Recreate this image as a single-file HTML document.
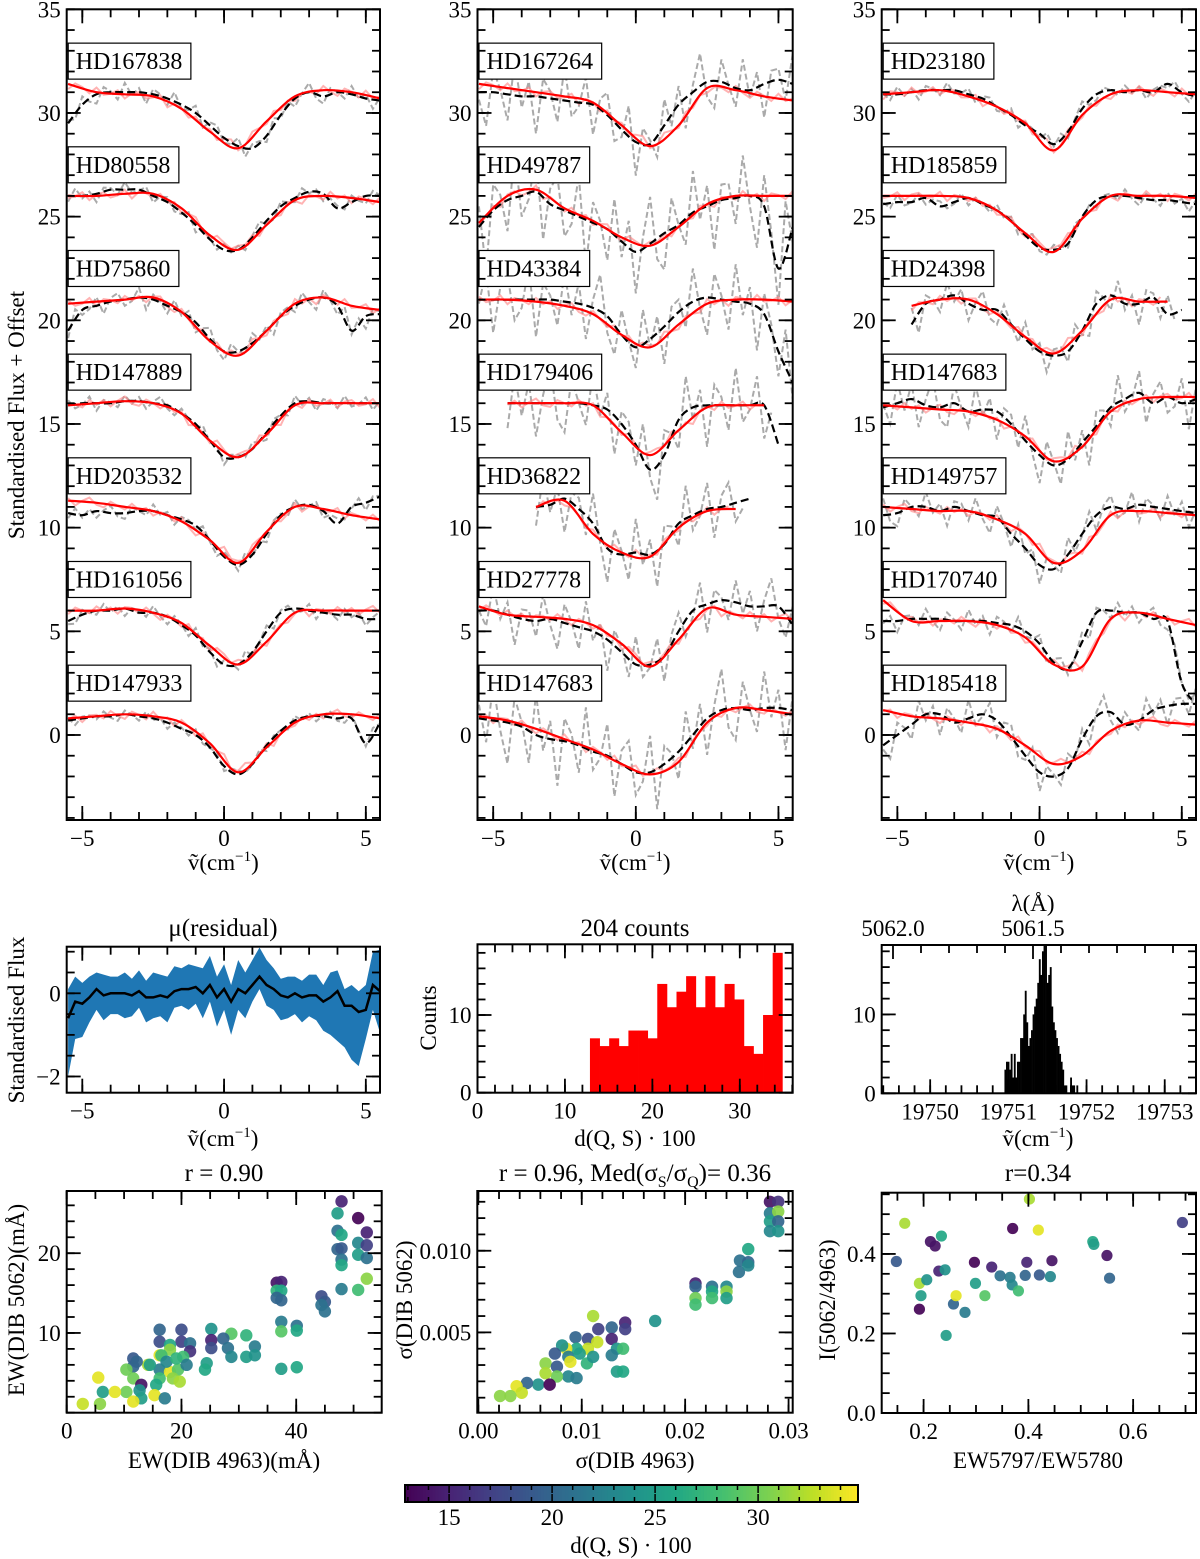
<!DOCTYPE html>
<html><head><meta charset="utf-8">
<style>
body{margin:0;background:#fff}
svg{display:block;font-family:"Liberation Serif","DejaVu Serif",serif}
</style></head>
<body>
<svg id="fig" width="1200" height="1559" viewBox="0 0 1200 1559" xmlns="http://www.w3.org/2000/svg"></svg>
<script>
// ===== DATA =====
const offsets = [30,25,20,15,10,5,0];
const p1Names = ["HD167838","HD80558","HD75860","HD147889","HD203532","HD161056","HD147933"];
const p2Names = ["HD167264","HD49787","HD43384","HD179406","HD36822","HD27778","HD147683"];
const p3Names = ["HD23180","HD185859","HD24398","HD147683","HD149757","HD170740","HD185418"];
// black dashed model, grid -5.5..5.5 step 0.5 (relative to offset)
const p1Black = [
 [-0.5,0.4,0.9,1.0,1.0,1.0,0.9,0.7,0.4,0.0,-0.6,-1.2,-1.6,-1.7,-1.1,-0.1,0.7,1.0,0.8,1.0,0.9,0.7,0.6],
 [1.0,1.0,1.1,1.3,1.3,1.3,1.0,0.7,0.2,-0.4,-1.1,-1.6,-1.6,-1.0,-0.2,0.5,0.9,1.2,1.1,0.4,0.7,1.0,1.0],
 [-0.5,0.5,0.7,0.9,1.0,1.1,1.0,0.7,0.4,-0.1,-0.9,-1.5,-1.5,-1.1,-0.5,0.2,0.7,1.0,1.1,0.7,-0.5,0.2,0.3],
 [0.9,1.0,1.0,1.0,1.1,1.1,1.0,0.9,0.5,0.0,-0.8,-1.6,-1.6,-1.2,-0.4,0.4,1.0,1.1,1.0,1.0,1.0,1.0,1.0],
 [0.7,0.6,0.8,0.7,0.7,0.8,0.8,0.6,0.4,0.1,-0.6,-1.4,-1.8,-1.3,-0.3,0.6,1.0,1.1,0.8,0.2,1.0,1.2,1.5],
 [0.5,0.8,1.0,1.0,1.1,0.9,0.9,0.7,0.3,-0.2,-1.0,-1.6,-1.6,-1.0,0.0,0.9,1.1,1.0,0.9,0.8,0.8,0.6,0.6],
 [0.7,0.8,0.9,0.9,1.0,0.9,0.8,0.6,0.3,0.0,-0.6,-1.5,-1.9,-1.4,-0.5,0.2,0.7,0.9,0.9,0.8,0.8,-0.4,0.6]
];
const p2Black = [
 [1.0,1.0,0.9,0.8,0.8,0.7,0.6,0.5,0.4,-0.1,-0.8,-1.4,-1.5,-0.6,0.4,1.0,1.5,1.5,1.2,1.1,1.4,1.6,1.4],
 [-0.5,0.3,0.8,1.0,1.2,0.6,0.3,0.0,-0.3,-0.6,-1.2,-1.7,-1.3,-0.8,-0.4,0.2,0.5,0.8,0.9,1.0,0.5,-2.5,-0.5],
 [1.0,1.0,1.0,1.0,1.0,1.0,0.9,0.8,0.6,0.2,-0.7,-1.3,-0.9,-0.3,0.4,0.9,1.1,1.0,0.9,0.8,0.3,-1.5,-3.0],
 [null,null,1.0,1.0,1.0,1.0,1.0,1.0,0.9,0.7,0.0,-1.0,-2.2,-1.5,0.2,0.8,0.9,0.9,0.9,0.9,0.9,-1.0,null],
 [null,null,null,null,1.0,1.1,1.4,0.9,0.2,-1.0,-1.3,-1.2,-1.3,-0.8,0.2,0.6,0.9,1.0,1.2,1.4,null,null,null],
 [1.0,1.0,0.8,0.6,0.5,0.6,0.4,0.2,0.0,-0.4,-1.0,-1.6,-1.6,-1.2,0.0,1.0,1.3,1.5,1.4,1.2,1.2,1.2,0.3],
 [0.8,0.7,0.6,0.4,0.0,-0.2,-0.3,-0.5,-0.8,-1.0,-1.4,-1.8,-1.8,-1.4,-0.8,0.0,0.8,1.2,1.3,1.2,1.3,1.3,1.2]
];
const p3Black = [
 [0.9,0.9,1.0,1.1,1.1,1.1,0.9,0.7,0.3,-0.1,-0.6,-1.0,-1.5,-0.9,0.2,0.9,1.1,1.0,1.1,1.0,1.4,1.0,0.8],
 [0.6,0.7,0.7,0.9,0.5,0.7,0.9,0.6,0.3,-0.2,-0.9,-1.5,-1.6,-1.3,0.0,0.8,1.0,1.0,0.9,0.8,0.8,0.7,0.6],
 [null,null,-0.2,0.8,1.0,1.2,0.8,0.5,0.5,-0.2,-0.9,-1.5,-1.7,-1.5,-0.5,0.8,1.2,0.8,0.8,1.1,0.3,0.5,null],
 [0.8,1.0,1.2,0.9,0.8,1.0,0.6,0.7,0.6,0.0,-0.8,-1.5,-2.0,-1.7,-0.9,-0.1,0.8,1.2,1.5,1.0,1.3,1.0,1.2],
 [0.6,0.7,1.0,1.0,0.8,1.0,0.8,0.6,0.5,-0.3,-1.0,-1.8,-2.0,-1.3,-0.3,0.6,1.0,0.9,1.1,1.0,0.9,0.8,0.7],
 [0.5,0.5,0.6,0.6,0.6,0.5,0.5,0.5,0.4,0.3,0.0,-0.6,-1.5,-1.8,-0.5,0.9,1.0,0.9,0.9,0.6,0.5,-2.5,-3.5],
 [-0.5,0.0,0.5,1.0,1.0,0.6,0.8,1.0,0.7,-0.1,-1.0,-1.8,-2.0,-1.6,-0.2,0.9,1.1,0.5,0.7,1.2,1.4,1.5,1.5]
];
// red fit, grid -5.5..5.5 step 1
const p1Red = [
 [1.4,1.0,0.9,0.8,0.2,-0.9,-1.7,-0.4,0.8,1.1,1.0,0.7],
 [1.0,1.0,1.1,1.1,0.4,-0.9,-1.6,-0.4,0.8,1.0,0.9,0.7],
 [0.8,0.9,1.0,1.1,0.4,-1.0,-1.7,-0.5,0.8,1.1,0.7,0.5],
 [0.9,1.0,1.1,1.0,0.5,-0.8,-1.6,-0.5,0.9,1.0,1.0,1.0],
 [1.3,1.2,1.0,0.8,0.3,-0.6,-1.7,-0.2,1.0,0.9,0.6,0.4],
 [1.0,1.0,1.1,0.9,0.4,-0.7,-1.6,-0.5,0.9,1.0,1.0,1.0],
 [0.8,0.9,1.0,0.9,0.6,-0.4,-1.8,-0.6,0.6,1.0,1.0,0.8]
];
const p2Red = [
 [1.4,1.2,1.0,0.8,0.5,-0.6,-1.6,-0.6,1.2,1.1,0.8,0.6],
 [-0.3,1.0,1.3,0.4,-0.2,-1.0,-1.4,-0.5,0.6,1.0,1.0,1.0],
 [1.0,1.0,0.9,0.7,0.3,-0.7,-1.3,-0.2,0.8,1.0,1.0,0.9],
 [null,1.0,1.0,1.0,0.9,-0.4,-1.5,-0.3,0.8,0.9,0.9,null],
 [null,null,1.0,1.3,-0.3,-1.2,-1.4,0.0,0.8,0.9,null,null],
 [1.2,0.8,0.7,0.6,0.3,-0.6,-1.7,-0.4,1.1,0.8,0.7,0.6],
 [0.9,0.7,0.3,-0.2,-0.7,-1.4,-1.9,-1.3,0.6,1.3,1.2,1.0]
];
const p3Red = [
 [0.9,1.0,1.1,0.8,0.3,-0.5,-1.8,-0.1,0.9,1.1,1.0,0.9],
 [1.0,1.0,1.0,0.9,0.3,-0.8,-1.7,-0.1,1.0,1.0,1.0,0.9],
 [null,0.7,1.0,1.0,0.3,-0.8,-1.6,-0.5,1.0,0.9,0.9,null],
 [0.9,0.8,0.7,0.6,0.2,-0.6,-1.8,-1.1,0.6,1.2,1.3,1.3],
 [1.0,0.9,0.8,0.8,0.4,-0.3,-1.7,-1.1,0.6,0.8,0.7,0.6],
 [1.5,0.5,0.5,0.5,0.3,-0.3,-1.6,-1.7,0.6,0.9,0.6,0.3],
 [1.2,0.9,0.8,0.6,0.3,-0.5,-1.4,-1.0,0.2,0.7,0.6,0.5]
];
// noise amplitude of observed (grey) spectra
const p1Noise = [0.5,0.4,0.6,0.4,0.4,0.4,0.3];
const p2Noise = [1.8,2.5,2.0,2.0,1.8,1.5,2.2];
const p3Noise = [0.4,0.4,1.0,1.5,0.9,0.6,1.0];
const noisePattern = [0.3,-0.5,0.8,-0.2,-0.9,0.6,0.1,-0.7,0.9,-0.3,0.4,-1.0,0.5,0.2,-0.6,0.9,-0.4,-0.1,0.7,-0.8,0.3,0.6,-0.5,-0.2,0.8,-0.9,0.4,0.1,-0.6,0.7,-0.3,0.5,-0.8,0.2,0.9,-0.4,-0.7,0.6,0.0,-0.5,0.8,-0.2,0.4,-0.9,0.3];
// residual panel, grid -5.5..5.5 step 0.25
const resMean = [-0.6,-0.2,-0.25,-0.1,0.1,-0.05,0.0,0.0,0.0,-0.05,0.05,-0.1,-0.1,-0.05,-0.1,0.05,0.1,0.1,0.15,0.0,0.2,-0.1,0.1,-0.2,0.1,0.0,0.2,0.4,0.2,0.1,-0.05,-0.1,0.0,-0.1,-0.05,-0.05,-0.2,-0.1,0.05,-0.3,-0.3,-0.45,-0.4,0.2,0.05];
const resUpper = [0.7,0.6,0.5,0.5,0.4,0.5,0.4,0.4,0.5,0.4,0.5,0.4,0.6,0.5,0.5,0.6,0.5,0.6,0.5,0.6,0.7,0.5,0.6,0.4,0.7,0.5,0.6,0.7,0.6,0.5,0.4,0.5,0.4,0.4,0.5,0.5,0.4,0.6,0.5,0.4,0.5,0.5,0.6,0.8,1.0];
const resLower = [-1.4,-0.9,-0.8,-0.6,-0.5,-0.6,-0.5,-0.5,-0.6,-0.5,-0.4,-0.6,-0.5,-0.5,-0.6,-0.4,-0.4,-0.5,-0.4,-0.6,-0.4,-0.7,-0.5,-0.8,-0.5,-0.6,-0.4,-0.3,-0.5,-0.5,-0.6,-0.5,-0.5,-0.6,-0.5,-0.6,-0.7,-0.9,-1.2,-1.0,-1.3,-1.3,-0.7,-0.6,-1.0];
// d(Q,S) histogram
const dHistStart = 12.86, dHistWidth = 1.1;
const dHistCounts = [7,6,7,6,8,8,7,14,11,13,15,11,15,11,14,12,6,5,10,18];
// wavenumber histogram
const wnHistStart = 19750.95, wnHistWidth = 0.02;
const wnHistCounts = [3,4,4,3,5,2,5,2,4,4,7,7,10,13,9,6,7,8,10,11,12,14,17,15,18,19,19,14,15,16,11,9,8,7,6,5,4,3,1,1,0,0,2,1,1,0,1,0];
// scatter 1: EW
const s1X = [47.9,47.2,50.8,52.3,47.2,47.9,50.8,52.3,47.2,47.9,50.8,52.3,47.9,47.9,52.3,47.9,50.8,36.6,37.4,36.6,37.4,36.6,37.4,44.4,45.0,44.4,45.0,37.4,40.1,37.4,40.1,37.4,40.1,25.2,28.7,31.3,25.2,27.3,28.1,25.2,28.7,31.3,32.8,32.8,24.4,24.1,16.2,20.0,16.2,20.0,21.5,18.0,21.5,18.0,20.3,16.2,11.6,11.6,14.2,16.2,18.0,19.4,20.9,11.6,13.0,16.2,18.5,19.7,15.6,10.4,12.7,13.0,15.3,17.1,11.6,6.3,8.4,5.5,2.8,5.8,10.4,12.2,14.5,16.5,17.4,19.1];
const s1Y = [26.5,25.0,24.4,22.6,22.8,22.3,21.3,21.0,20.5,20.6,19.8,19.4,19.2,18.5,16.8,15.5,15.4,16.3,16.4,15.3,15.3,14.4,14.1,14.6,13.9,13.5,12.7,11.4,10.9,10.2,10.3,5.5,5.7,10.5,9.9,9.7,9.1,9.3,8.1,8.1,7.0,7.0,8.3,7.2,6.2,5.4,10.4,10.4,8.9,8.9,8.7,8.5,7.7,7.9,7.0,7.2,6.8,5.8,6.0,5.4,5.1,5.4,6.0,4.3,3.5,4.3,4.3,3.9,3.5,2.6,2.8,1.8,2.2,1.8,1.4,2.6,2.6,4.4,1.1,1.1,5.4,6.4,6.0,7.2,6.4,6.8];
const s1C = [15,25,13,15,21,26,23,17,20,19,25,21,21,26,31,22,28,14,15,27,26,20,20,18,19,21,21,22,21,29,26,25,26,24,29,27,15,20,21,18,23,25,22,24,25,26,20,18,18,17,21,26,16,31,28,34,19,20,32,22,34,29,22,30,14,28,31,32,26,30,24,25,34,22,34,25,34,34,33,31,30,20,25,28,23,27];
// scatter 2: sigma
const s2X = [0.0282,0.0290,0.0282,0.0290,0.0282,0.0290,0.0282,0.0290,0.0261,0.0253,0.0261,0.0252,0.0261,0.0210,0.0210,0.0226,0.0240,0.0210,0.0210,0.0226,0.0226,0.0240,0.0240,0.0171,0.0111,0.0142,0.0142,0.0129,0.0116,0.0129,0.0134,0.0140,0.0129,0.0106,0.0106,0.0094,0.0095,0.0085,0.0081,0.0074,0.0065,0.0076,0.0087,0.0098,0.0105,0.0111,0.0087,0.0095,0.0076,0.0065,0.0058,0.0069,0.0047,0.0037,0.0042,0.0021,0.0031,0.0134,0.0140,0.0089,0.0115];
const s2Y = [0.0130,0.0130,0.0123,0.0124,0.0118,0.0118,0.0112,0.0112,0.0101,0.0094,0.0093,0.0087,0.0091,0.0080,0.0078,0.0078,0.0078,0.0071,0.0067,0.0075,0.0071,0.0075,0.0071,0.0057,0.0060,0.0056,0.0052,0.0053,0.0052,0.0046,0.0040,0.0040,0.0036,0.0046,0.0040,0.0047,0.0040,0.0040,0.0042,0.0037,0.0031,0.0029,0.0035,0.0037,0.0031,0.0035,0.0023,0.0022,0.0023,0.0025,0.0018,0.0018,0.0019,0.0017,0.0013,0.0011,0.0011,0.0026,0.0026,0.0032,0.0044];
const s2C = [14,16,22,31,25,20,23,24,26,21,20,21,23,15,20,21,23,30,28,26,28,31,25,24,32,15,17,20,17,15,24,28,22,18,33,20,26,34,24,19,31,19,22,25,27,24,23,22,30,32,24,13,20,34,33,31,31,25,26,34,33];
// scatter 3: intensity ratio
const s3X = [0.148,0.164,0.192,0.195,0.192,0.206,0.213,0.222,0.229,0.234,0.241,0.243,0.257,0.262,0.279,0.297,0.299,0.317,0.330,0.346,0.365,0.370,0.369,0.381,0.394,0.397,0.402,0.419,0.421,0.442,0.445,0.523,0.525,0.550,0.555,0.694];
const s3Y = [0.381,0.477,0.326,0.295,0.261,0.335,0.431,0.420,0.357,0.445,0.360,0.195,0.274,0.295,0.253,0.379,0.326,0.295,0.367,0.345,0.341,0.464,0.322,0.307,0.346,0.379,0.538,0.460,0.347,0.343,0.383,0.431,0.424,0.396,0.339,0.479];
const s3C = [19,32,32,25,13,24,14,14,15,26,24,25,20,34,22,13,25,29,15,21,22,13,23,28,20,15,32,34,19,23,14,26,25,14,20,17];
const cbTicks = [15,20,25,30];

// ===== HELPERS =====
const NS = 'http://www.w3.org/2000/svg';
const svg = document.getElementById('fig');
function mk(tag, attrs, parent){
  const e = document.createElementNS(NS, tag);
  for (const k in attrs) e.setAttribute(k, attrs[k]);
  (parent || svg).appendChild(e);
  return e;
}
function lin(d0,d1,r0,r1){ return v => r0 + (v-d0)/(d1-d0)*(r1-r0); }
const stops = ['#440154','#482475','#414487','#355f8d','#2a788e','#21918c','#22a884','#44bf70','#7ad151','#bddf26','#fde725'];
function hex(h){ return [1,3,5].map(i=>parseInt(h.substr(i,2),16)); }
function viridis(t){
  t = Math.max(0, Math.min(1, t));
  const f = t*(stops.length-1), i = Math.min(Math.floor(f), stops.length-2), u = f-i;
  const a = hex(stops[i]), b = hex(stops[i+1]);
  return 'rgb(' + a.map((v,k)=>Math.round(v+(b[k]-v)*u)).join(',') + ')';
}
const cMin = 12.86, cMax = 34.85;
function cmap(v){ return viridis((v-cMin)/(cMax-cMin)); }
const fmtMinus = s => String(s).replace('-', '\u2212');

let clipN = 0;
function makePanel(name, l, t, r, b, xd, yd){
  const g = mk('g', {});
  
  
  const id = 'clip' + (clipN++);
  const cp = mk('clipPath', {id: id}, g);
  mk('rect', {x:l, y:t, width:r-l, height:b-t}, cp);
  const plot = mk('g', {'clip-path': 'url(#' + id + ')'}, g);
  
  
  return {g, plot, l, t, r, b, sx: lin(xd[0], xd[1], l, r), sy: lin(yd[0], yd[1], b, t), xd, yd};
}
function frame(P){
  const f = mk('rect', {x:P.l, y:P.t, width:P.r-P.l, height:P.b-P.t, fill:'none', stroke:'#000', 'stroke-width':2}, P.g);
  
  
}
function range(a, b, s){ const o=[]; for(let v=a; v<=b+s*1e-6; v+=s) o.push(+v.toFixed(6)); return o; }
function xTicks(P, majors, minors, fmt, top=true){
  const g = mk('g', {stroke:'#000', 'stroke-width':1.8}, P.g);
  
  
  const within = v => v >= Math.min(...P.xd) - 1e-9 && v <= Math.max(...P.xd) + 1e-9;
  minors.filter(within).forEach(v => { const x=P.sx(v);
    mk('line', {x1:x, x2:x, y1:P.b, y2:P.b-8}, g);
    if (top) mk('line', {x1:x, x2:x, y1:P.t, y2:P.t+8}, g); });
  majors.filter(within).forEach(v => { const x=P.sx(v);
    mk('line', {x1:x, x2:x, y1:P.b, y2:P.b-14}, g);
    if (top) mk('line', {x1:x, x2:x, y1:P.t, y2:P.t+14}, g);
    const tx = mk('text', {x:x, y:P.b+26, 'text-anchor':'middle', 'font-size':23}, P.g);
    tx.textContent = fmt(v);
    
     });
}
function yTicks(P, majors, minors, fmt){
  const g = mk('g', {stroke:'#000', 'stroke-width':1.8}, P.g);
  
  
  const within = v => v >= P.yd[0] - 1e-9 && v <= P.yd[1] + 1e-9;
  minors.filter(within).forEach(v => { const y=P.sy(v);
    mk('line', {x1:P.l, x2:P.l+8, y1:y, y2:y}, g);
    mk('line', {x1:P.r, x2:P.r-8, y1:y, y2:y}, g); });
  majors.filter(within).forEach(v => { const y=P.sy(v);
    mk('line', {x1:P.l, x2:P.l+14, y1:y, y2:y}, g);
    mk('line', {x1:P.r, x2:P.r-14, y1:y, y2:y}, g);
    const tx = mk('text', {x:P.l-6, y:y+8, 'text-anchor':'end', 'font-size':23}, P.g);
    tx.textContent = fmt(v);
    
     });
}
function label(txt, x, y, name, rot, size=23){
  const t = mk('text', {x:x, y:y, 'text-anchor':'middle', 'font-size':size});
  if (rot) t.setAttribute('transform', 'rotate(-90 ' + x + ' ' + y + ')');
  t.innerHTML = txt;
  
  
  return t;
}
const nuLabel = '\u1E7D(cm<tspan dy="-9" font-size="15">\u22121</tspan><tspan dy="9">)</tspan>';
function interp(arr, x0, step, x){
  const f = (x-x0)/step, i = Math.floor(f+1e-9);
  if (i === arr.length-1 && Math.abs(f-i)<1e-6) return arr[i];
  if (i < 0 || i >= arr.length-1) return null;
  const a = arr[i], b = arr[i+1];
  if (a == null || b == null) return null;
  return a + (b-a)*(f-i);
}
function segs(pts){
  const out=[]; let cur=[];
  pts.forEach(p => { if (p[1]==null || isNaN(p[1])) { if(cur.length>1) out.push(cur); cur=[]; } else cur.push(p); });
  if (cur.length>1) out.push(cur);
  return out;
}
function linPath(pts){ return segs(pts).map(s => 'M' + s.map(p=>p[0].toFixed(1)+','+p[1].toFixed(1)).join('L')).join(''); }
function smoothPath(pts){
  return segs(pts).map(s => {
    let d = 'M' + s[0][0].toFixed(1) + ',' + s[0][1].toFixed(1);
    for (let i=0; i<s.length-1; i++){
      const p0=s[i-1]||s[i], p1=s[i], p2=s[i+1], p3=s[i+2]||s[i+1];
      const c1=[p1[0]+(p2[0]-p0[0])/6, p1[1]+(p2[1]-p0[1])/6];
      const c2=[p2[0]-(p3[0]-p1[0])/6, p2[1]-(p3[1]-p1[1])/6];
      d += 'C'+c1.map(v=>v.toFixed(1)).join(',')+' '+c2.map(v=>v.toFixed(1)).join(',')+' '+p2[0].toFixed(1)+','+p2[1].toFixed(1);
    }
    return d; }).join('');
}

// ===== TOP SPECTRA PANELS =====
const topBoxes = [[66.7,380],[477.5,792.7],[881.7,1196]];
const allNames=[p1Names,p2Names,p3Names], allBlack=[p1Black,p2Black,p3Black], allRed=[p1Red,p2Red,p3Red], allNoise=[p1Noise,p2Noise,p3Noise];
topBoxes.forEach((bx, k) => {
  const P = makePanel('spectra-panel-' + (k+1), bx[0], 9.3, bx[1], 820, [-5.55,5.5], [-4.1,35]);
  offsets.forEach((off, j) => {
    const B = allBlack[k][j], R = allRed[k][j], amp = allNoise[k][j];
    const fine = range(-5.5, 5.5, 0.25);
    const grey = fine.map((x,i) => { const b = interp(B, -5.5, 0.5, x); return [P.sx(x), b==null?null:P.sy(off + b + amp*noisePattern[(i + j*7 + k*3) % 45])]; });
    const gp = mk('path', {d: linPath(grey), fill:'none', stroke:'#aaaaaa', 'stroke-width':2, 'stroke-dasharray':'6,3'}, P.plot);
    
    
    const pink = fine.map((x,i) => { const r = interp(R, -5.5, 1, x); return [P.sx(x), r==null?null:P.sy(off + r + 0.25*noisePattern[(i + j*5 + 11) % 45])]; });
    const pp = mk('path', {d: linPath(pink), fill:'none', stroke:'#ff8080', 'stroke-width':2, opacity:0.6}, P.plot);
    
    
    const bl = B.map((v,i) => [P.sx(-5.5 + i*0.5), v==null?null:P.sy(off+v)]);
    const bp = mk('path', {d: smoothPath(bl), fill:'none', stroke:'#000', 'stroke-width':2.2, 'stroke-dasharray':'8,4'}, P.plot);
    
    
    const rl = R.map((v,i) => [P.sx(-5.5 + i), v==null?null:P.sy(off+v)]);
    const rp = mk('path', {d: smoothPath(rl), fill:'none', stroke:'#ff0000', 'stroke-width':2.2}, P.plot);
    
    
  });
  // label boxes
  offsets.forEach((off, j) => {
    const cy = P.sy(off + 2.5);
    const bg = mk('g', {}, P.g);
    
    
    const rc = mk('rect', {x:P.l+1.5, y:cy-18, height:36, width:110, fill:'#fff', stroke:'#000', 'stroke-width':1.2}, bg);
    const tx = mk('text', {x:P.l+9, y:cy+8, 'font-size':24}, bg);
    tx.textContent = allNames[k][j];
    let w = 100; try { w = tx.getComputedTextLength(); } catch(e){}
    rc.setAttribute('width', w + 16);
  });
  frame(P);
  xTicks(P, [-5,0,5], range(-5,5,1), v=>fmtMinus(v));
  yTicks(P, range(0,35,5), range(-4,35,1), v=>String(v));
  label(nuLabel, (bx[0]+bx[1])/2, 870, 'x-axis-title-spectra-' + (k+1));
});
label('Standardised Flux + Offset', 24, 415, 'y-axis-title-spectra', true);

// ===== RESIDUAL PANEL =====
(function(){
  const P = makePanel('residual-panel', 66.7, 946.7, 380, 1092.7, [-5.55,5.5], [-2.39,1.12]);
  const xs = range(-5.5, 5.5, 0.25);
  const up = xs.map((x,i)=>[P.sx(x), P.sy(resMean[i]+resUpper[i])]);
  const lo = xs.map((x,i)=>[P.sx(x), P.sy(resMean[i]+resLower[i])]).reverse();
  const band = mk('path', {d: 'M' + up.concat(lo).map(p=>p[0].toFixed(1)+','+p[1].toFixed(1)).join('L') + 'Z', fill:'#1f77b4'}, P.plot);
  
  
  const ml = mk('path', {d: linPath(xs.map((x,i)=>[P.sx(x), P.sy(resMean[i])])), fill:'none', stroke:'#000', 'stroke-width':2.5}, P.plot);
  
  
  frame(P);
  xTicks(P, [-5,0,5], range(-5,5,1), v=>fmtMinus(v));
  yTicks(P, [-2,0], range(-2,1,0.5), v=>fmtMinus(v));
  label('\u03BC(residual)', 223, 936, 'residual-title', false, 25);
  label(nuLabel, 223, 1146, 'x-axis-title-residual');
  label('Standardised Flux', 24, 1020, 'y-axis-title-residual', true);
})();

// ===== d(Q,S) HISTOGRAM =====
(function(){
  const P = makePanel('distance-histogram', 477.5, 944.3, 792.7, 1092.7, [0,36.05], [0,19.1]);
  dHistCounts.forEach((c,i) => {
    const x0 = dHistStart + i*dHistWidth;
    const r = mk('rect', {x:P.sx(x0), y:P.sy(c), width:P.sx(x0+dHistWidth)-P.sx(x0)+0.4, height:P.sy(0)-P.sy(c), fill:'#ff0000'}, P.plot);
    
    
  });
  frame(P);
  xTicks(P, [0,10,20,30], range(0,36,2), v=>String(v));
  yTicks(P, [0,10], range(0,18,2), v=>String(v));
  label('204 counts', 635, 936, 'distance-histogram-title', false, 25);
  label('d(Q, S) \u00B7 100', 635, 1146, 'x-axis-title-distance');
  label('Counts', 436, 1018, 'y-axis-title-counts', true);
})();

// ===== WAVENUMBER HISTOGRAM =====
(function(){
  const P = makePanel('wavenumber-histogram', 881.7, 945, 1196, 1093.3, [19749.38,19753.4], [0,18.8]);
  wnHistCounts.forEach((c,i) => {
    if (!c) return;
    const x0 = wnHistStart + i*wnHistWidth;
    const r = mk('rect', {x:P.sx(x0), y:P.sy(c), width:P.sx(x0+wnHistWidth)-P.sx(x0)+0.3, height:P.sy(0)-P.sy(c), fill:'#000'}, P.plot);
    
    
  });
  frame(P);
  xTicks(P, [19750,19751,19752,19753], range(19749.4,19753.4,0.2), v=>String(v), false);
  yTicks(P, [0,10], range(0,18,2), v=>String(v));
  // top wavelength axis
  const lam = v => 893 + (5062.0 - v)/0.5*140;
  const tg = mk('g', {stroke:'#000', 'stroke-width':1.8}, P.g);
  
  
  range(5061.0, 5062.0, 0.1).forEach(v => { const x = lam(v); if (x < P.l || x > P.r) return;
    const major = Math.abs(v-5062.0)<1e-6 || Math.abs(v-5061.5)<1e-6;
    mk('line', {x1:x, x2:x, y1:P.t, y2:P.t+(major?14:8)}, tg); });
  [5062.0, 5061.5].forEach(v => {
    const t = mk('text', {x:lam(v), y:936, 'text-anchor':'middle', 'font-size':23}, P.g);
    t.textContent = v.toFixed(1);
    
    
  });
  label('\u03BB(\u00C5)', 1033, 911, 'wavelength-axis-title');
  label(nuLabel, 1038, 1146, 'x-axis-title-wavenumber');
})();

// ===== SCATTER PANELS =====
function scatter(name, box, xd, yd, X, Y, C, rad){
  const P = makePanel(name, box[0], box[1], box[2], box[3], xd, yd);
  X.forEach((x,i) => {
    const c = mk('circle', {cx:P.sx(x), cy:P.sy(Y[i]), r:rad, fill:cmap(C[i]), 'fill-opacity':0.92}, P.plot);
    
    
  });
  frame(P);
  return P;
}
(function(){
  const P1 = scatter('ew-scatter', [66.7,1191,381.7,1412.7], [0,54.9], [0,27.8], s1X, s1Y, s1C, 6.2);
  xTicks(P1, [0,20,40], range(0,55,5), v=>String(v));
  yTicks(P1, [10,20], range(0,26,2), v=>String(v));
  label('r =  0.90', 224, 1181, 'ew-scatter-title', false, 25);
  label('EW(DIB 4963)(m\u00C5)', 224, 1468, 'x-axis-title-ew');
  label('EW(DIB 5062)(m\u00C5)', 24, 1300, 'y-axis-title-ew', true);

  const P2 = scatter('sigma-scatter', [477.3,1191,792.7,1412.7], [-0.0001,0.0304], [0.00008,0.01366], s2X, s2Y, s2C, 6.2);
  xTicks(P2, [0,0.01,0.02,0.03], range(0,0.030,0.002), v=>v.toFixed(2));
  yTicks(P2, [0.005,0.010], range(0.001,0.013,0.001), v=>v.toFixed(3));
  label('r =  0.96, Med(\u03C3<tspan dy="6" font-size="16">S</tspan><tspan dy="-6">/\u03C3</tspan><tspan dy="6" font-size="16">Q</tspan><tspan dy="-6">)= 0.36</tspan>', 635, 1181, 'sigma-scatter-title', false, 25);
  label('\u03C3(DIB 4963)', 635, 1468, 'x-axis-title-sigma');
  label('\u03C3(DIB 5062)', 412, 1300, 'y-axis-title-sigma', true);

  const P3 = scatter('intensity-scatter', [881.7,1192.7,1196,1413], [0.120,0.720], [0,0.554], s3X, s3Y, s3C, 5.6);
  xTicks(P3, [0.2,0.4,0.6], range(0.15,0.70,0.05), v=>v.toFixed(1));
  yTicks(P3, [0,0.2,0.4], range(0,0.55,0.05), v=>v.toFixed(1));
  label('r=0.34', 1038, 1181, 'intensity-scatter-title', false, 25);
  label('EW5797/EW5780', 1038, 1468, 'x-axis-title-ratio');
  label('I(5062/4963)', 835, 1300, 'y-axis-title-intensity', true);
})();

// ===== COLORBAR =====
(function(){
  const g = mk('g', {});
  
  
  const l=405, r=858, t=1485, b=1502;
  const sx = lin(cMin, cMax, l, r);
  const N = 150;
  for (let i=0; i<N; i++){
    const v = cMin + (cMax-cMin)*i/N;
    mk('rect', {x:sx(v), y:t, width:(r-l)/N+0.6, height:b-t, fill:cmap(v + (cMax-cMin)/(2*N))}, g);
  }
  mk('rect', {x:l, y:t, width:r-l, height:b-t, fill:'none', stroke:'#000', 'stroke-width':2}, g);
  for (let v=13; v<=34; v++){
    const x = sx(v), maj = v%5===0;
    mk('line', {x1:x, x2:x, y1:b, y2:b-(maj?8:5), stroke:'#000', 'stroke-width':1.5}, g);
    mk('line', {x1:x, x2:x, y1:t, y2:t+(maj?8:5), stroke:'#000', 'stroke-width':1.5}, g);
  }
  cbTicks.forEach(v => {
    const tx = mk('text', {x:sx(v), y:1525, 'text-anchor':'middle', 'font-size':23}, g);
    tx.textContent = String(v);
    
    
  });
  label('d(Q, S) \u00B7 100', 631, 1553, 'colorbar-title');
})();
</script>
</body></html>
